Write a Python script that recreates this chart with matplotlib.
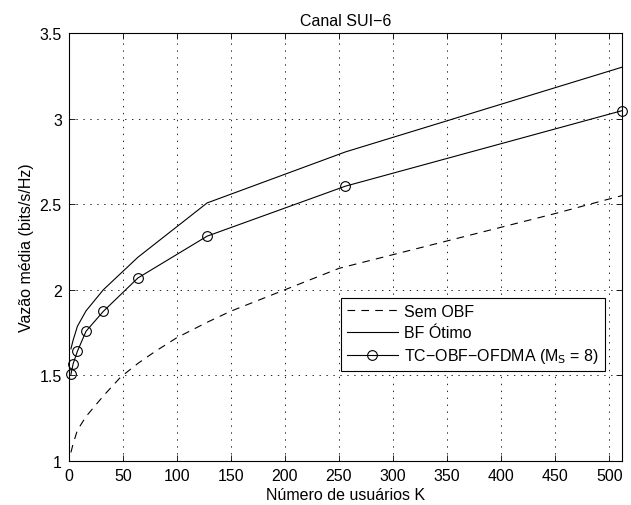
import matplotlib
matplotlib.use("Agg")
import matplotlib.pyplot as plt

plt.rcParams['font.family'] = ['Liberation Sans', 'DejaVu Sans']
plt.rcParams['font.size'] = 11.5
plt.rcParams['lines.scale_dashes'] = False

# numero de usuarios K
k_sem = [2, 4, 8, 16, 32, 48, 64, 80, 100, 128, 150, 200, 250, 300, 350, 400, 450, 500, 512]
y_sem = [1.05, 1.10, 1.18, 1.26, 1.38, 1.49, 1.57, 1.64, 1.72, 1.81, 1.875, 2.0, 2.125,
         2.205, 2.285, 2.365, 2.445, 2.53, 2.55]

k_pts = [2, 4, 8, 16, 32, 64, 128, 256, 512]
y_bf = [1.655, 1.705, 1.787, 1.877, 2.0, 2.19, 2.507, 2.805, 3.30]
y_tc = [1.506, 1.567, 1.641, 1.758, 1.874, 2.069, 2.313, 2.605, 3.046]

fig = plt.figure(figsize=(6.31, 5.06), dpi=100)
ax = fig.add_axes([0.109, 0.087, 0.877, 0.846])

ax.plot(k_sem, y_sem, color='k', linewidth=0.8, dashes=(5.5, 4.5), label='Sem OBF')
ax.plot(k_pts, y_bf, color='k', linewidth=0.8, label='BF \u00d3timo')
ax.plot(k_pts, y_tc, color='k', linewidth=0.8, marker='o', markersize=7,
        markerfacecolor='none', markeredgewidth=0.8, clip_on=False,
        label='TC\u2212OBF\u2212OFDMA (M$_\\mathrm{S}$ = 8)')

ax.set_xlim(0, 512)
ax.set_ylim(1, 3.5)
ax.set_xticks(range(0, 501, 50))
ax.set_yticks([1, 1.5, 2, 2.5, 3, 3.5])
ax.set_yticklabels(['1', '1.5', '2', '2.5', '3', '3.5'])
ax.tick_params(direction='in', top=True, right=True, length=4, width=0.6,
               labelsize=11.5, pad=5)
ax.grid(True, linestyle=(0, (1, 4)), color='k', linewidth=0.6)
for s in ax.spines.values():
    s.set_linewidth(0.8)

ax.set_xlabel('N\u00famero de usu\u00e1rios K', fontsize=11.5, labelpad=3)
ax.set_ylabel('Vaz\u00e3o m\u00e9dia (bits/s/Hz)', fontsize=11.5, labelpad=4)
ax.set_title('Canal SUI\u22126', fontsize=11.5, pad=6)

leg = ax.legend(loc='lower right', bbox_to_anchor=(0.969, 0.21), fontsize=11.5,
                fancybox=False, edgecolor='k', framealpha=1, borderpad=0.35,
                handlelength=3.2, handletextpad=0.4, labelspacing=0.4,
                borderaxespad=0)
leg.get_frame().set_linewidth(0.8)

fig.savefig('out.png', dpi=100)
